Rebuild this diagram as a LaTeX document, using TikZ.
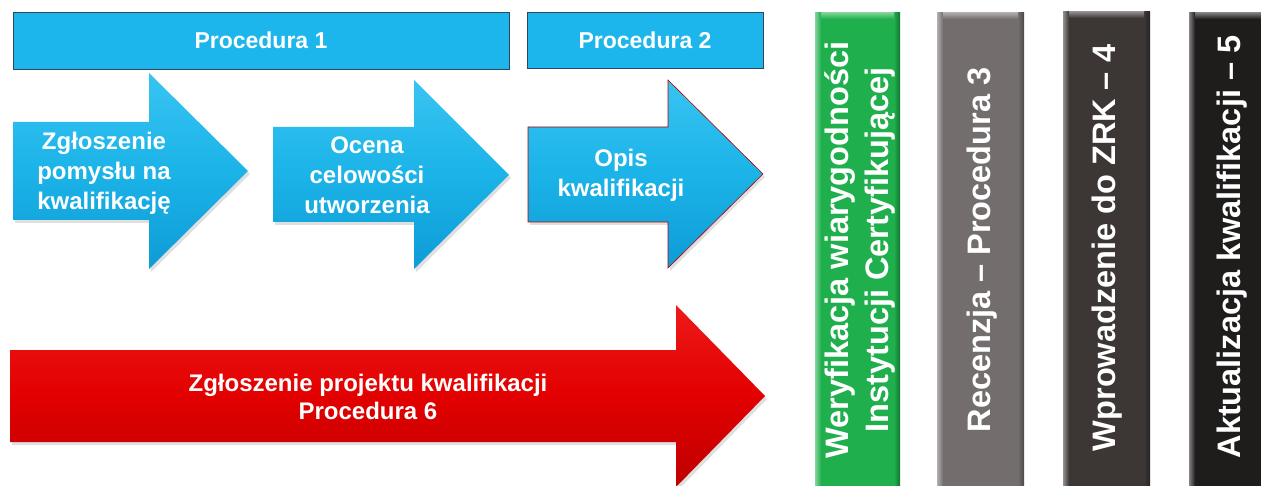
\documentclass[tikz,border=0pt]{standalone}
\usepackage{fontspec}
\setmainfont{Liberation Sans}
\usetikzlibrary{shadows}

\definecolor{skyTop}{HTML}{38C4F2}
\definecolor{skyMid}{HTML}{1BB3E8}
\definecolor{skyBot}{HTML}{0E9CD6}
\definecolor{skyBar}{HTML}{1CB6EC}
\definecolor{barEdge}{HTML}{2B4761}
\definecolor{redTop}{HTML}{EE1A1A}
\definecolor{redMid}{HTML}{E20000}
\definecolor{redBot}{HTML}{BE0000}
\definecolor{greenMid}{HTML}{1FAF4C}
\definecolor{greyMid}{HTML}{736E6D}
\definecolor{darkMid}{HTML}{3C3735}
\definecolor{blackMid}{HTML}{1F1C1C}

\tikzset{
  headbar/.style={draw=barEdge, line width=0.8pt, fill=skyBar},
  bluearrow/.style={top color=skyTop, bottom color=skyBot, middle color=skyMid,
    drop shadow={opacity=0.25, shadow xshift=2pt, shadow yshift=-3pt}},
  redarrow/.style={top color=redTop, bottom color=redBot, middle color=redMid,
    drop shadow={opacity=0.25, shadow xshift=2pt, shadow yshift=-3pt}},
  lbl/.style={text=white, font=\bfseries\fontsize{24}{30}\selectfont, align=center},
  headlbl/.style={text=white, font=\bfseries\fontsize{23}{28}\selectfont},
  collbl/.style={text=white, font=\bfseries\fontsize{32.5}{40}\selectfont,
    align=center, rotate=90},
}

% a bevelled vertical column: left x, top y, right x, colour
\newcommand\stagecol[4]{%
  \fill[#4] (#1,#2) rectangle (#3,490);
  \shade[left color=#4!55!white, right color=#4] (#1,#2) rectangle ({#1+6},490);
  \shade[left color=#4, right color=#4!65!black] ({#3-6},#2) rectangle (#3,490);
  \shade[top color=#4!60!white, bottom color=#4] ({#1+6},#2) rectangle ({#3-6},{#2+6});
}

\begin{document}
\begin{tikzpicture}[x=1pt, y=-1pt]
  \useasboundingbox (0,0) rectangle (1261,486);
  \fill[white] (0,0) rectangle (1261,486);
  \clip (0,0) rectangle (1261,486);

  % procedure header bars
  \draw[headbar] (13,12) rectangle (509,69);
  \node[headlbl] (p1) at (261,40) {Procedura 1};
  \draw[headbar] (527,12) rectangle (763,68);
  \node[headlbl] (p2) at (645,40) {Procedura 2};

  % blue step arrows
  \path[bluearrow] (13,122) -- (149,122) -- (149,73) -- (248,171) -- (149,269)
    -- (149,220) -- (13,220) -- cycle;
  \node[lbl] (s1) at (104,173) {Zgłoszenie\\pomysłu na\\kwalifikację};

  \path[bluearrow] (273,127) -- (414,127) -- (414,80) -- (509,175) -- (414,269)
    -- (414,222) -- (273,222) -- cycle;
  \node[lbl] (s2) at (367,175) {Ocena\\celowości\\utworzenia};

  \path[bluearrow, draw=red!70!black, line width=0.6pt] (528,127) -- (668,127)
    -- (668,80) -- (763,174) -- (668,268) -- (668,222) -- (528,222) -- cycle;
  \node[lbl] (s3) at (621,175) {Opis\\kwalifikacji};

  % long red arrow
  \path[redarrow] (10,350) -- (676,350) -- (676,305) -- (765,396) -- (676,487)
    -- (676,442) -- (10,442) -- cycle;
  \node[lbl, font=\bfseries\fontsize{24}{28}\selectfont] (s6) at (368,397)
    {Zgłoszenie projektu kwalifikacji\\Procedura 6};

  % vertical stage columns
  \stagecol{815}{13}{900}{greenMid}
  \node[collbl] (c1) at (860,250) {Weryfikacja wiarygodności\\Instytucji Certyfikującej};

  \stagecol{937}{13}{1024}{greyMid}
  \node[collbl] (c2) at (982,250) {Recenzja – Procedura 3};

  \stagecol{1063}{12}{1150}{darkMid}
  \node[collbl] (c3) at (1107,248) {Wprowadzenie do ZRK – 4};

  \stagecol{1189}{13}{1290}{blackMid}
  \node[collbl] (c4) at (1232,247) {Aktualizacja kwalifikacji – 5};
\end{tikzpicture}
\end{document}
